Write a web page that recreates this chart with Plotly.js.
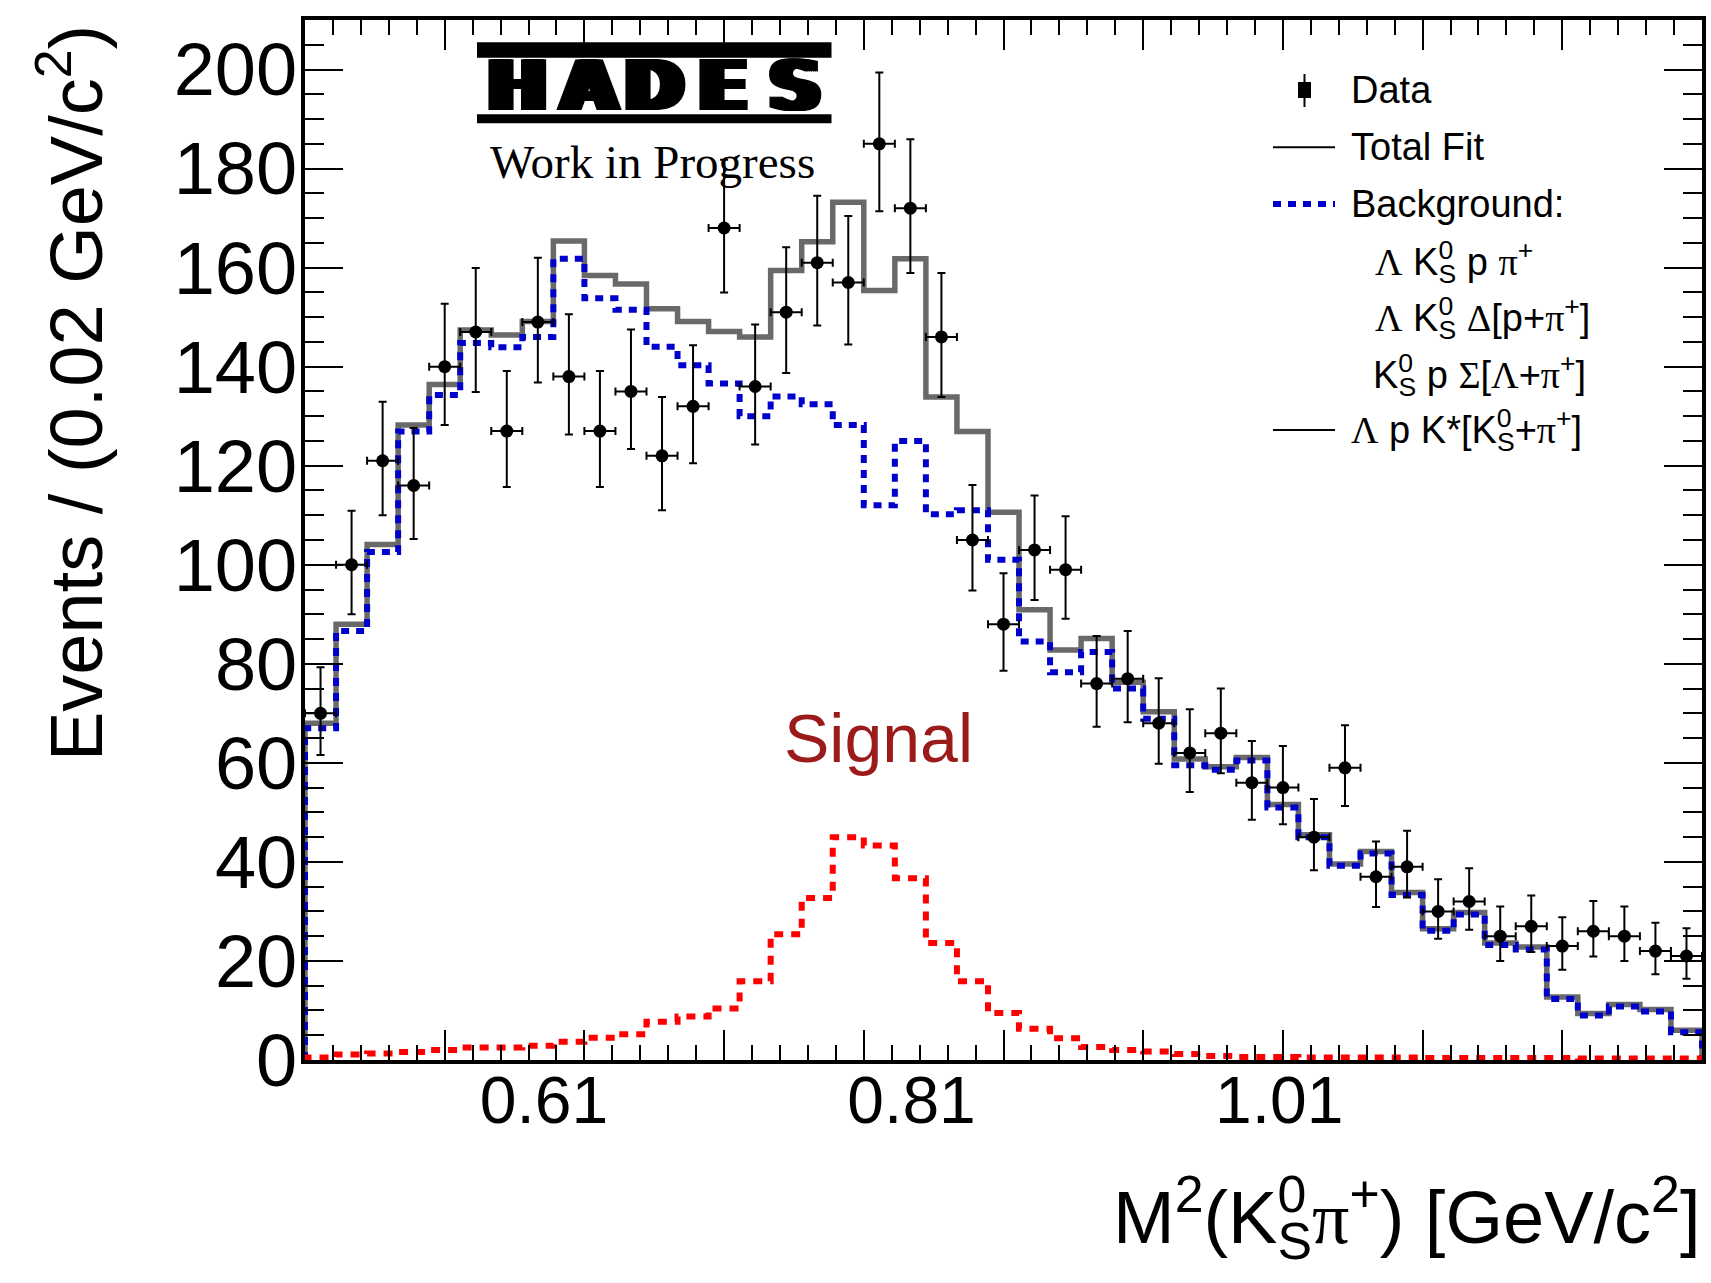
<!DOCTYPE html>
<html>
<head>
<meta charset="utf-8">
<script src="https://cdn.plot.ly/plotly-3.0.1.min.js"></script>
<style>html,body{margin:0;padding:0;background:#fff;}#chart{width:1711px;height:1283px;}</style>
</head>
<body>
<div id="chart"></div>
<script>
// ---------- data ----------
const binEdges = [0.48, 0.49689, 0.51378, 0.53067, 0.54756, 0.56444, 0.58133, 0.59822, 0.61511, 0.63200,
  0.64889, 0.66578, 0.68267, 0.69956, 0.71644, 0.73333, 0.75022, 0.76711, 0.78400, 0.80089,
  0.81778, 0.83467, 0.85156, 0.86844, 0.88533, 0.90222, 0.91911, 0.93600, 0.95289, 0.96978,
  0.98667, 1.00356, 1.02044, 1.03733, 1.05422, 1.07111, 1.08800, 1.10489, 1.12178, 1.13867,
  1.15556, 1.17244, 1.18933, 1.20622, 1.22311, 1.24];

const dataCounts = [70, 100, 121, 116, 140, 147, 127, 149, 138, 127,
  135, 122, 132, 168, 136, 151, 161, 157, 185, 172,
  146, 105, 88, 103, 99, 76, 77, 68, 62, 66,
  56, 55, 45, 59, 37, 39, 30, 32, 25, 27,
  23, 26, 25, 22, 21];

const dataErrUp = [9.3, 10.9, 11.9, 11.6, 12.7, 12.9, 12.1, 13.0, 12.6, 12.1,
  12.5, 11.9, 12.3, 13.8, 12.5, 13.1, 13.5, 13.4, 14.4, 13.9,
  12.9, 11.1, 10.3, 11.0, 10.8, 9.6, 9.6, 9.1, 8.8, 9.0,
  8.4, 8.4, 7.7, 8.6, 7.1, 7.3, 6.5, 6.7, 6.0, 6.2,
  5.8, 6.1, 6.0, 5.7, 5.6];

const dataErrLow = [8.4, 10.0, 11.0, 10.8, 11.8, 12.1, 11.3, 12.2, 11.7, 11.3,
  11.6, 11.0, 11.5, 13.0, 11.7, 12.3, 12.7, 12.5, 13.6, 13.1,
  12.1, 10.2, 9.4, 10.1, 9.9, 8.7, 8.8, 8.2, 7.9, 8.1,
  7.5, 7.4, 6.7, 7.7, 6.1, 6.2, 5.5, 5.7, 5.0, 5.2,
  4.8, 5.1, 5.0, 4.7, 4.6];

const totalFit = [68.0, 88.0, 104.1, 128.2, 136.4, 147.4, 146.4, 149.1, 165.4, 158.4,
  156.7, 151.7, 149.1, 147.1, 146.0, 159.4, 165.2, 173.2, 155.4, 161.8,
  133.9, 126.9, 110.6, 90.9, 82.8, 85.1, 76.3, 70.3, 60.8, 59.2,
  61.1, 51.6, 45.5, 39.6, 42.1, 33.8, 26.5, 29.8, 23.6, 22.8,
  12.7, 9.4, 11.2, 10.2, 6.0];

const background = [67.0, 86.6, 102.6, 126.9, 134.3, 144.8, 143.9, 146.0, 161.8, 153.8,
  151.5, 144.0, 140.3, 136.6, 130.0, 134.0, 132.4, 128.2, 112.0, 125.0,
  110.2, 111.0, 101.0, 84.5, 78.3, 82.4, 75.0, 68.9, 59.5, 58.6,
  60.5, 51.0, 45.0, 39.2, 41.7, 33.3, 26.1, 29.4, 23.2, 22.3,
  12.3, 9.0, 10.8, 9.8, 5.6];

const signal = [0.5, 1.1, 1.3, 1.6, 2.0, 2.5, 2.5, 2.9, 3.7, 4.5,
  5.2, 7.7, 8.8, 10.4, 15.9, 25.4, 32.7, 45.0, 43.3, 36.7,
  23.6, 15.9, 9.5, 6.3, 4.4, 2.6, 2.0, 1.7, 1.2, 0.8,
  0.6, 0.6, 0.5, 0.5, 0.5, 0.5, 0.4, 0.4, 0.4, 0.4,
  0.4, 0.3, 0.3, 0.3, 0.3];

const xTickVals = [0.61, 0.81, 1.01];
const xTickText = ['0.61', '0.81', '1.01'];
const yTickVals = [0, 20, 40, 60, 80, 100, 120, 140, 160, 180, 200];
const yTickText = ['0', '20', '40', '60', '80', '100', '120', '140', '160', '180', '200'];

// ---------- helpers ----------
const nBins = dataCounts.length;
const centers = [], halfW = [];
for (let i = 0; i < nBins; i++) {
  centers.push((binEdges[i] + binEdges[i + 1]) / 2);
  halfW.push((binEdges[i + 1] - binEdges[i]) / 2);
}
function stepXY(vals) {
  const x = [binEdges[0]], y = [0];
  for (let i = 0; i < vals.length; i++) { x.push(binEdges[i]); y.push(vals[i]); }
  x.push(binEdges[binEdges.length - 1]); y.push(0);
  return {x, y};
}

const W = 1711, H = 1283;
const M = {l: 305, r: 9, t: 20, b: 223};
const PW = W - M.l - M.r, PH = H - M.t - M.b;
const px = v => (v - M.l) / PW;          // pixel x -> paper
const py = v => (H - M.b - v) / PH;      // pixel y -> paper

const SANS = 'Liberation Sans, Arial, Helvetica, sans-serif';
const SERIF = 'Liberation Serif, Times New Roman, serif';
const gk = s => '<span style="font-family:Liberation Serif">' + s + '</span>';
// K with stacked superscript 0 and subscript S
const K0S = 'K<sup><span style="letter-spacing:-0.556em">0</span></sup><sub>S</sub>';

const fit = stepXY(totalFit), bkg = stepXY(background), sig = stepXY(signal);

const traces = [
  {x: fit.x, y: fit.y, type: 'scatter', mode: 'lines', name: 'Total Fit',
   line: {shape: 'hv', color: '#696969', width: 5.5}, hoverinfo: 'skip'},
  {x: bkg.x, y: bkg.y, type: 'scatter', mode: 'lines', name: 'Background',
   line: {shape: 'hv', color: '#0000cc', width: 6, dash: '8px,7px'}, hoverinfo: 'skip'},
  {x: sig.x, y: sig.y, type: 'scatter', mode: 'lines', name: 'Signal',
   xaxis: 'x2', yaxis: 'y',
   line: {shape: 'hv', color: '#ff0000', width: 6, dash: '9px,8px'}, hoverinfo: 'skip'},
  {x: centers, y: dataCounts, type: 'scatter', mode: 'markers', name: 'Data',
   marker: {size: 13, color: '#000000'},
   error_y: {type: 'data', symmetric: false, array: dataErrUp, arrayminus: dataErrLow,
             color: '#000000', thickness: 2, width: 4},
   error_x: {type: 'data', array: halfW, color: '#000000', thickness: 2, width: 4}}
];

const legX0 = 1273, legX1 = 1335;
const shapes = [
  // HADES logo bars
  {type: 'rect', xref: 'paper', yref: 'paper', x0: px(477), x1: px(831.5), y0: py(57.7), y1: py(42.3),
   fillcolor: '#000000', line: {width: 0}},
  {type: 'rect', xref: 'paper', yref: 'paper', x0: px(477), x1: px(831.5), y0: py(123.3), y1: py(114.3),
   fillcolor: '#000000', line: {width: 0}},
  // legend symbols
  {type: 'line', xref: 'paper', yref: 'paper', x0: px(1304.5), x1: px(1304.5), y0: py(107), y1: py(74),
   line: {color: '#000000', width: 2}},
  {type: 'rect', xref: 'paper', yref: 'paper', x0: px(1298), x1: px(1311), y0: py(98), y1: py(82),
   fillcolor: '#000000', line: {width: 0}},
  {type: 'line', xref: 'paper', yref: 'paper', x0: px(legX0), x1: px(legX1), y0: py(147.3), y1: py(147.3),
   line: {color: '#000000', width: 2}},
  {type: 'line', xref: 'paper', yref: 'paper', x0: px(legX0), x1: px(legX1), y0: py(204), y1: py(204),
   line: {color: '#0000cc', width: 6, dash: '8px,7px'}},
  {type: 'line', xref: 'paper', yref: 'paper', x0: px(legX0), x1: px(legX1), y0: py(430), y1: py(430),
   line: {color: '#000000', width: 2}}
];

function ann(text, x, y, size, opts) {
  return Object.assign({text: text, xref: 'paper', yref: 'paper', x: px(x), y: py(y),
    showarrow: false, xanchor: 'left', yanchor: 'middle',
    font: {family: SANS, size: size, color: '#000000'}}, opts || {});
}

const logoFont = {family: 'DejaVu Sans, Verdana, sans-serif', size: 70, color: '#000000', weight: 900,
  shadow: '2px 0 0 #000, -2px 0 0 #000, 4px 0 0 #000, -4px 0 0 #000, 6px 0 0 #000, -6px 0 0 #000'};
const annotations = [
  // HADES logo letters
  ann('<b>H</b>', 517, 86, 70, {xanchor: 'center', font: logoFont}),
  ann('<b>A</b>', 589, 86, 70, {xanchor: 'center', font: logoFont}),
  ann('<b>D</b>', 654, 86, 70, {xanchor: 'center', font: logoFont}),
  ann('<b>E</b>', 723, 86, 70, {xanchor: 'center', font: logoFont}),
  ann('<b>S</b>', 795, 86, 70, {xanchor: 'center', font: logoFont}),
  ann('Work in Progress', 652.5, 162.5, 47, {xanchor: 'center', font: {family: SERIF, size: 47, color: '#000000'}}),
  ann('Signal', 878.3, 738, 68, {xanchor: 'center', font: {family: SANS, size: 68, color: '#9b1b1b'}}),
  // legend text
  ann('Data', 1349, 90, 38),
  ann('Total Fit', 1349, 146.5, 38),
  ann('Background:', 1349, 203.5, 38),
  ann(gk('Λ') + ' ' + K0S + ' p ' + gk('π') + '<sup>+</sup>', 1373, 262, 38),
  ann(gk('Λ') + ' ' + K0S + ' ' + gk('Δ') + '[p+' + gk('π') + '<sup>+</sup>]', 1373, 318, 38),
  ann(K0S + ' p ' + gk('Σ') + '[' + gk('Λ') + '+' + gk('π') + '<sup>+</sup>]', 1371, 375, 38),
  ann(gk('Λ') + ' p K*[' + K0S + '+' + gk('π') + '<sup>+</sup>]', 1349, 430, 38),
  // axis titles
  ann('Events / (0.02 GeV/c<sup>2</sup>)', 71, 393, 74, {xanchor: 'center', textangle: -90}),
  ann('M<sup>2</sup>(' + K0S + gk('π') + '<sup>+</sup>) [GeV/c<sup>2</sup>]', 1702, 1217, 74,
      {xanchor: 'right'})
];

const layout = {
  width: W, height: H,
  margin: M,
  paper_bgcolor: '#ffffff', plot_bgcolor: '#ffffff',
  showlegend: false,
  font: {family: SANS, color: '#000000'},
  xaxis: {
    range: [binEdges[0], binEdges[binEdges.length - 1]], autorange: false,
    tickmode: 'linear', tick0: 0.48, dtick: 0.076,
    ticks: 'inside', ticklen: 30, tickwidth: 2, tickcolor: '#000000',
    minor: {ticks: 'inside', dtick: 0.0152, tick0: 0.48, ticklen: 15, tickwidth: 2, tickcolor: '#000000'},
    showticklabels: false,
    showline: true, linewidth: 4, linecolor: '#000000', mirror: 'ticks',
    showgrid: false, zeroline: false
  },
  xaxis2: {
    overlaying: 'x', anchor: 'y', side: 'bottom',
    range: [binEdges[0], binEdges[binEdges.length - 1]], autorange: false,
    tickmode: 'array', tickvals: xTickVals, ticktext: xTickText,
    ticks: '', showline: false, showgrid: false, zeroline: false,
    tickfont: {family: SANS, size: 66, color: '#000000'},
    ticklabelstandoff: -4
  },
  yaxis: {
    range: [0, 210], autorange: false,
    tickmode: 'array', tickvals: yTickVals, ticktext: yTickText,
    ticks: 'inside', ticklen: 38, tickwidth: 2, tickcolor: '#000000',
    minor: {ticks: 'inside', dtick: 5, tick0: 0, ticklen: 19, tickwidth: 2, tickcolor: '#000000'},
    tickfont: {family: SANS, size: 74, color: '#000000'},
    showline: true, linewidth: 4, linecolor: '#000000', mirror: 'ticks',
    showgrid: false, zeroline: false, ticklabelstandoff: -11
  },
  shapes: shapes,
  annotations: annotations
};

Plotly.newPlot('chart', traces, layout, {staticPlot: true, displayModeBar: false});
</script>
</body>
</html>
